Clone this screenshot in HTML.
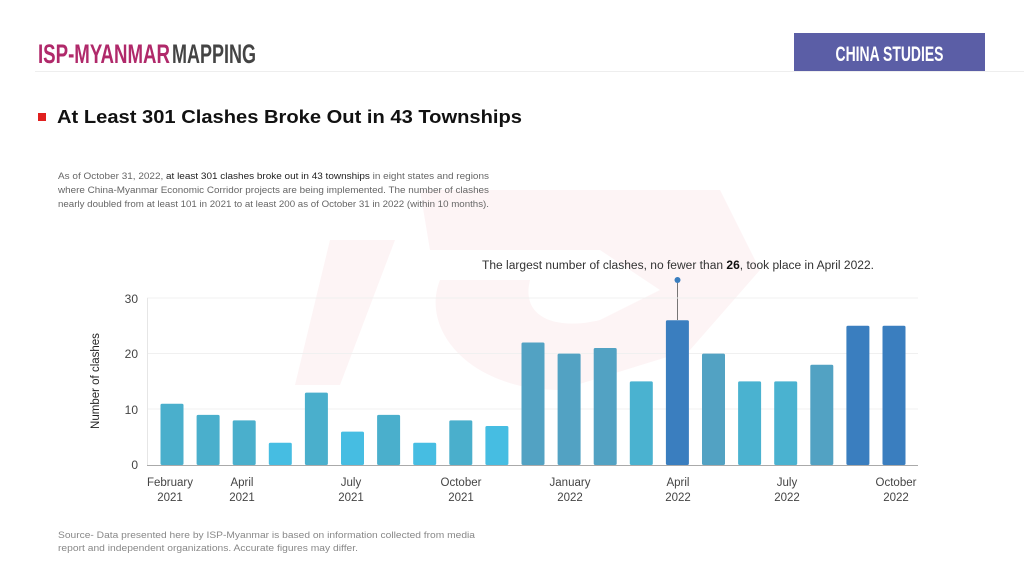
<!DOCTYPE html>
<html><head><meta charset="utf-8"><style>
html,body{margin:0;padding:0;background:#fff;}
svg{display:block;font-family:"Liberation Sans",sans-serif;}
</style></head><body>
<svg width="1024" height="576" viewBox="0 0 1024 576" xmlns="http://www.w3.org/2000/svg">
<rect width="1024" height="576" fill="#fff"/>
<!-- watermark -->
<g fill="#fdf4f5">
<polygon points="330,240 395,240 340,385 295,385"/>
<path d="M420,190 L720,190 L760,270 L690,350 L560,390 C470,390 420,330 440,280 L530,280 C520,320 560,330 600,320 L660,290 L600,250 L430,250 Z"/>
</g>
<!-- header -->
<text x="38" y="63" font-size="27" font-weight="bold" fill="#b0296a" font-family="Liberation Sans Narrow, Liberation Sans, sans-serif" textLength="132" lengthAdjust="spacingAndGlyphs">ISP-MYANMAR</text>
<text x="172" y="63" font-size="27" font-weight="bold" fill="#444" font-family="Liberation Sans Narrow, Liberation Sans, sans-serif" textLength="84" lengthAdjust="spacingAndGlyphs">MAPPING</text>
<line x1="35" y1="71.5" x2="1024" y2="71.5" stroke="#eee" stroke-width="1"/>
<rect x="794" y="33" width="191" height="38" fill="#5b5ea6"/>
<text x="889.5" y="61" font-size="21" font-weight="bold" fill="#fff" text-anchor="middle" font-family="Liberation Sans Narrow, Liberation Sans, sans-serif" textLength="108" lengthAdjust="spacingAndGlyphs">CHINA STUDIES</text>
<!-- title -->
<rect x="38" y="113" width="8" height="8" fill="#e0201f"/>
<text x="57" y="123" font-size="18.5" font-weight="bold" fill="#111" textLength="465" lengthAdjust="spacingAndGlyphs">At Least 301 Clashes Broke Out in 43 Townships</text>
<g font-size="9.6" fill="#666">
<text x="58" y="179" textLength="431" lengthAdjust="spacingAndGlyphs">As of October 31, 2022, <tspan fill="#222">at least 301 clashes broke out in 43 townships</tspan> in eight states and regions</text>
<text x="58" y="193" textLength="431" lengthAdjust="spacingAndGlyphs">where China-Myanmar Economic Corridor projects are being implemented. The number of clashes</text>
<text x="58" y="207" textLength="431" lengthAdjust="spacingAndGlyphs">nearly doubled from at least 101 in 2021 to at least 200 as of October 31 in 2022 (within 10 months).</text>
</g>
<!-- annotation -->
<text x="678" y="269" font-size="11.5" fill="#333" text-anchor="middle" textLength="392" lengthAdjust="spacingAndGlyphs">The largest number of clashes, no fewer than <tspan font-weight="bold" fill="#111">26</tspan>, took place in April 2022.</text>
<line x1="677.5" y1="280" x2="677.5" y2="320" stroke="#555" stroke-width="0.8"/>
<circle cx="677.5" cy="280" r="3" fill="#3a7ebf"/>
<!-- grid -->
<g stroke="#f0f0f0" stroke-width="1">
<line x1="147" y1="298" x2="918" y2="298"/>
<line x1="147" y1="353.5" x2="918" y2="353.5"/>
<line x1="147" y1="409" x2="918" y2="409"/>
</g>
<line x1="147.5" y1="298" x2="147.5" y2="465" stroke="#e6e6e6"/>
<line x1="147" y1="465.5" x2="918" y2="465.5" stroke="#aaa" stroke-width="1"/>
<g font-size="12" fill="#444" text-anchor="end">
<text x="138" y="303">30</text>
<text x="138" y="358">20</text>
<text x="138" y="414">10</text>
<text x="138" y="469">0</text>
</g>
<text transform="translate(99,381) rotate(-90)" font-size="11.5" fill="#222" text-anchor="middle">Number of clashes</text>
<!-- bars -->
<g>
<rect x="160.5" y="403.7" width="23" height="61.3" rx="1.5" fill="#4aafcc"/>
<rect x="196.6" y="414.9" width="23" height="50.1" rx="1.5" fill="#4aafcc"/>
<rect x="232.7" y="420.4" width="23" height="44.6" rx="1.5" fill="#4aafcc"/>
<rect x="268.8" y="442.7" width="23" height="22.3" rx="1.5" fill="#46bde2"/>
<rect x="304.9" y="392.6" width="23" height="72.4" rx="1.5" fill="#4aafcc"/>
<rect x="341" y="431.6" width="23" height="33.4" rx="1.5" fill="#46bde2"/>
<rect x="377.1" y="414.9" width="23" height="50.1" rx="1.5" fill="#4aafcc"/>
<rect x="413.2" y="442.7" width="23" height="22.3" rx="1.5" fill="#46bde2"/>
<rect x="449.3" y="420.4" width="23" height="44.6" rx="1.5" fill="#4aafcc"/>
<rect x="485.4" y="426" width="23" height="39" rx="1.5" fill="#46bde2"/>
<rect x="521.5" y="342.5" width="23" height="122.5" rx="1.5" fill="#52a2c3"/>
<rect x="557.6" y="353.6" width="23" height="111.4" rx="1.5" fill="#52a2c3"/>
<rect x="593.7" y="348" width="23" height="117" rx="1.5" fill="#52a2c3"/>
<rect x="629.8" y="381.4" width="23" height="83.6" rx="1.5" fill="#4ab2d0"/>
<rect x="665.9" y="320.2" width="23" height="144.8" rx="1.5" fill="#3a7ebf"/>
<rect x="702" y="353.6" width="23" height="111.4" rx="1.5" fill="#52a2c3"/>
<rect x="738.1" y="381.4" width="23" height="83.6" rx="1.5" fill="#4ab2d0"/>
<rect x="774.2" y="381.4" width="23" height="83.6" rx="1.5" fill="#4ab2d0"/>
<rect x="810.3" y="364.7" width="23" height="100.3" rx="1.5" fill="#52a2c3"/>
<rect x="846.4" y="325.7" width="23" height="139.3" rx="1.5" fill="#3a7ebf"/>
<rect x="882.5" y="325.7" width="23" height="139.3" rx="1.5" fill="#3a7ebf"/>
</g>
<!-- x labels -->
<g font-size="11.5" fill="#444" text-anchor="middle">
<text x="170" y="486">February</text><text x="170" y="501">2021</text>
<text x="242" y="486">April</text><text x="242" y="501">2021</text>
<text x="351" y="486">July</text><text x="351" y="501">2021</text>
<text x="461" y="486">October</text><text x="461" y="501">2021</text>
<text x="570" y="486">January</text><text x="570" y="501">2022</text>
<text x="678" y="486">April</text><text x="678" y="501">2022</text>
<text x="787" y="486">July</text><text x="787" y="501">2022</text>
<text x="896" y="486">October</text><text x="896" y="501">2022</text>
</g>
<g font-size="9.6" fill="#888">
<text x="58" y="538" textLength="417" lengthAdjust="spacingAndGlyphs">Source- Data presented here by ISP-Myanmar is based on information collected from media</text>
<text x="58" y="551" textLength="300" lengthAdjust="spacingAndGlyphs">report and independent organizations. Accurate figures may differ.</text>
</g>
</svg>
</body></html>
